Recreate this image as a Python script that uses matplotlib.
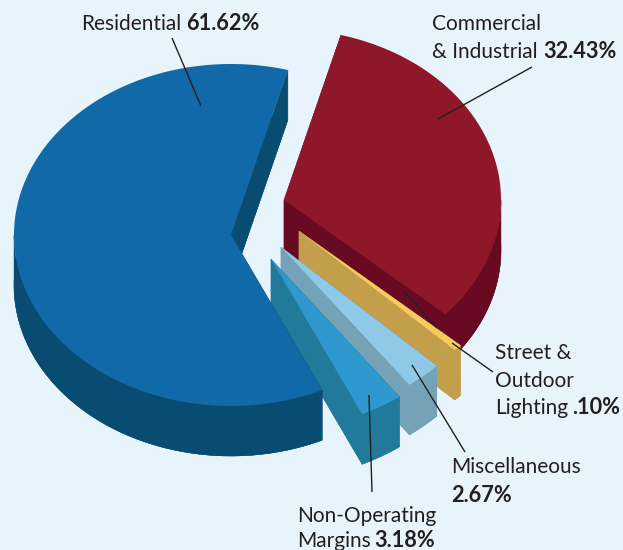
import numpy as np
import matplotlib
matplotlib.use("Agg")
import matplotlib.pyplot as plt
from matplotlib.patches import Polygon

plt.rcParams['font.family'] = ['Lato', 'DejaVu Sans']

# shares in percent, as printed on the chart
names = ["Commercial", "Street", "Miscellaneous", "Non-Operating", "Residential"]
shares = [32.43, 0.10, 2.67, 3.18, 61.62]
# the street slice is drawn much wider than its .10% in the original
drawn_shares = [32.43, 0.60, 2.67, 3.18, 61.62]

# look of the exploded slices (picture pixels)
apex_x = [284, 299, 281, 271, 231]
apex_y = [200, 231, 247, 259, 235]
top_colors = ["#8E1829", "#F6CB5D", "#90C8E8", "#2F98CF", "#1269A8"]
side_colors = ["#680A22", "#C39E4B", "#74A2B7", "#227A9A", "#084C72"]

bg = "#E8F4FB"
ink = "#231F20"
rx, ry = 217, 171
depth = 50
start_angle = 74.8

fig = plt.figure(figsize=(6.23, 5.5), dpi=100, facecolor=bg)
ax = fig.add_axes([0, 0, 1, 1])
ax.set_xlim(0, 623)
ax.set_ylim(550, 0)
ax.axis('off')

sweeps = 3.6 * np.array(drawn_shares)
# residential closes the circle, it gives back what street got extra
sweeps[-1] = 360 - sweeps[:-1].sum()
ends = start_angle - np.cumsum(sweeps)
starts = ends + sweeps


def slice_outline(cx, cy, t0, t1):
    t = np.radians(np.linspace(t0, t1, 400))
    xs = np.r_[cx, cx + rx * np.cos(t)]
    ys = np.r_[cy, cy - ry * np.sin(t)]
    return np.column_stack([xs, ys])


down = np.array([0, depth])

# residential is last so it sits over the side of the non-operating slice
for i in range(len(names)):
    pts = slice_outline(apex_x[i], apex_y[i], starts[i], ends[i])
    arc = pts[1:]
    # only the front half of the rim can be seen
    arc = arc[arc[:, 1] >= apex_y[i]]
    walls = [
        pts + down,
        np.vstack([arc, (arc + down)[::-1]]),
        np.vstack([pts[0], pts[1], pts[1] + down, pts[0] + down]),
        np.vstack([pts[0], pts[-1], pts[-1] + down, pts[0] + down]),
    ]
    for w in walls:
        ax.add_patch(Polygon(w, fc=side_colors[i], ec=side_colors[i], lw=0.3))
    ax.add_patch(Polygon(pts, fc=top_colors[i], ec='none'))

# leader lines
lines = [
    [(172, 38), (201, 106)],
    [(532, 67), (438, 119)],
    [(404, 291), (437, 328)],
    [(452, 343), (493, 372)],
    [(412, 365), (465, 452)],
    [(369, 395), (372, 492)],
]
for p, q in lines:
    ax.plot([p[0], q[0]], [p[1], q[1]], color=ink, lw=1.0, solid_capstyle='butt')

# labels, plain and bold parts placed separately
plain = [
    (81, 30, "Residential"),
    (432, 30, "Commercial"),
    (432, 58, "& Industrial"),
    (495, 359, "Street &"),
    (495, 387, "Outdoor"),
    (495, 414, "Lighting"),
    (451, 473, "Miscellaneous"),
    (297, 522, "Non-Operating"),
    (297, 547, "Margins"),
]
bold = [
    (186, 30, "61.62%"),
    (543, 58, "32.43%"),
    (572, 414, ".10%"),
    (451, 502, "2.67%"),
    (374, 547, "3.18%"),
]
for x, y, s in plain:
    ax.text(x, y, s, fontsize=15, color=ink, va='baseline', ha='left')
for x, y, s in bold:
    ax.text(x, y, s, fontsize=15.7, color=ink, va='baseline', ha='left', fontweight='bold')

fig.savefig("out.png", dpi=100, facecolor=bg)
